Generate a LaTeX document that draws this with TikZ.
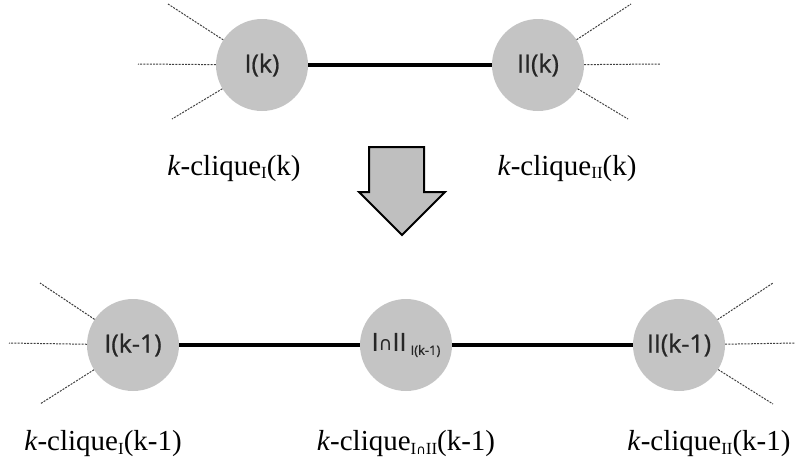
\documentclass[tikz,border=0pt]{standalone}
\usepackage{fontspec}
\setmainfont{Liberation Serif}
\newfontfamily\circfont[FakeBold=0.8]{Open Sans}
\newfontfamily\symfont{DejaVu Sans}
\newcommand{\mysub}[2]{\raisebox{-0.3ex}{\fontsize{#1}{#1}\selectfont #2}}
\newcommand{\klab}[3]{\textit{k}-clique\mysub{#1}{#2}(#3)}
\begin{document}
\begin{tikzpicture}[x=1pt,y=-1pt,
  vert/.style={circle,fill=black!23,minimum size=92pt,inner sep=0pt,
    font=\circfont\fontsize{25}{25}\selectfont,text=black!85},
  edge/.style={line width=3.5pt,black},
  stub/.style={line width=1pt,black!75,dash pattern=on 2pt off 1.2pt},
  lab/.style={font=\fontsize{29}{29}\selectfont,anchor=base}]
\useasboundingbox (0,0) rectangle (795,467);
% top
\node[vert] (c1) at (262,65) {I(k)};
\node[vert] (c2) at (538,65) {II(k)};
\draw[edge] (c1) -- (c2);
\coordinate (a1) at (168,4);
\coordinate (a2) at (138,64);
\coordinate (a3) at (172,119);
\coordinate (b1) at (631,4);
\coordinate (b2) at (660,64);
\coordinate (b3) at (628,119);
\foreach \p in {a1,a2,a3} \draw[stub] (c1) -- (\p);
\foreach \p in {b1,b2,b3} \draw[stub] (c2) -- (\p);
\node[lab] (l1) at (234,175) {\klab{17}{I}{k}};
\node[lab] (l2) at (567,175) {\klab{17}{II}{k}};
% arrow
\draw[line width=2pt,fill=black!25,line join=miter]
  (369,147) -- (424,147) -- (424,192) -- (445,192) -- (402,235)
  -- (359,192) -- (369,192) -- cycle;
% bottom
\node[vert] (d1) at (133,345) {I(k-1)};
\node[vert] (d2) at (406,345) {I{\symfont\fontsize{19}{19}\selectfont ∩}II\,\raisebox{-0.3ex}{\fontsize{13}{13}\selectfont I(k-1)}};
\node[vert] (d3) at (679,345) {II(k-1)};
\draw[edge] (d1) -- (d2);
\draw[edge] (d2) -- (d3);
\coordinate (e1) at (40,283);
\coordinate (e2) at (9,343);
\coordinate (e3) at (40,404);
\coordinate (f1) at (773,283);
\coordinate (f2) at (795,343);
\coordinate (f3) at (773,404);
\foreach \p in {e1,e2,e3} \draw[stub] (d1) -- (\p);
\foreach \p in {f1,f2,f3} \draw[stub] (d3) -- (\p);
\node[lab] (m1) at (103,450) {\klab{17}{I}{k-1}};
\node[lab] (m2) at (406,450) {\klab{17}{I{\symfont\fontsize{13}{13}\selectfont ∩}II}{k-1}};
\node[lab] (m3) at (709,450) {\klab{17}{II}{k-1}};
\end{tikzpicture}
\end{document}
